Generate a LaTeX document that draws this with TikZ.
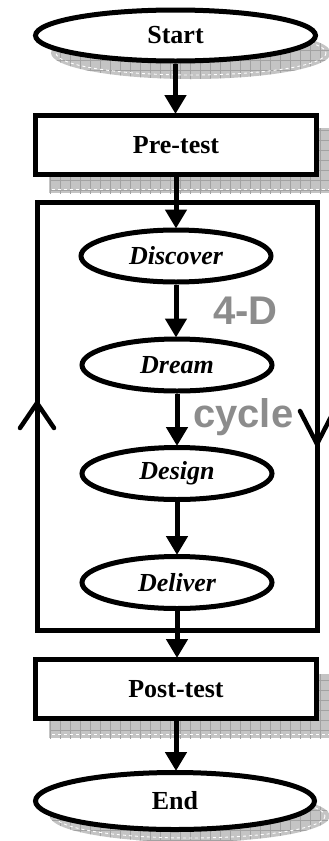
\documentclass[tikz,border=0pt]{standalone}
\usepackage{fontspec}
\setmainfont{Liberation Serif}
\newfontfamily\labelsans{Liberation Sans}
\usetikzlibrary{shapes.geometric,arrows.meta}
\definecolor{shadowfill}{HTML}{C4C4C4}
\definecolor{shadowgrid}{HTML}{A2A2A2}
\definecolor{cyclegray}{HTML}{8C8C8C}
\tikzset{
  bw/.style={line width=5pt},
  termnode/.style={ellipse,draw,bw,fill=white,inner sep=0pt,minimum width=280pt,minimum height=51pt,font=\fontsize{26}{26}\selectfont\bfseries},
  stepnode/.style={ellipse,draw,bw,fill=white,inner sep=0pt,minimum width=190pt,minimum height=52pt,font=\fontsize{26}{26}\selectfont\bfseries\itshape},
  testbox/.style={rectangle,draw,bw,fill=white,inner sep=0pt,minimum width=281pt,minimum height=59pt,font=\fontsize{26}{26}\selectfont\bfseries},
  flow/.style={bw,-{Triangle[width=21pt,length=19pt]},shorten >=-1pt},
  chev/.style={line width=4.5pt,line cap=round,line join=miter},
  bigtext/.style={text=cyclegray,inner sep=0pt,font=\labelsans\fontsize{40}{40}\selectfont\bfseries},
  shgrid/.style={shadowgrid,line width=0.7pt},
  shdash/.style={white,line width=0.9pt,dashed}
}
\newcommand{\shadowgridlines}[4]{%
  \foreach \gx in {#1,...,#3} {\draw[shgrid] (\gx*10,#2*10) -- (\gx*10,#4*10);}
  \foreach \gy in {#2,...,#4} {\draw[shgrid] (#1*10,\gy*10) -- (#3*10,\gy*10);}
}
\begin{document}
\begin{tikzpicture}[x=1pt,y=-1pt]
\useasboundingbox (0,0) rectangle (329,841);
% shadows
\begin{scope}
  \clip (191,53) ellipse [x radius=140, y radius=26];
  \fill[shadowfill] (40,20) rectangle (340,90);
  \shadowgridlines{4}{2}{34}{9}
\end{scope}
\draw[shdash] (191,53) ellipse [x radius=135, y radius=22];
\begin{scope}
  \clip (49,128) rectangle (340,193);
  \fill[shadowfill] (49,128) rectangle (340,193);
  \shadowgridlines{5}{12}{34}{20}
\end{scope}
\draw[shdash] (52,189) -- (335,189);
\begin{scope}
  \clip (49,674) rectangle (340,738);
  \fill[shadowfill] (49,674) rectangle (340,738);
  \shadowgridlines{5}{67}{34}{74}
\end{scope}
\draw[shdash] (52,734) -- (335,734);
\begin{scope}
  \clip (190,816) ellipse [x radius=140, y radius=26];
  \fill[shadowfill] (40,780) rectangle (340,850);
  \shadowgridlines{4}{78}{34}{85}
\end{scope}
\draw[shdash] (190,816) ellipse [x radius=135, y radius=22];
% cycle frame
\draw[bw] (37,202) rectangle (317,630);
% nodes
\node[termnode] (start) at (175.5,35.5) {Start};
\node[testbox] (pre) at (176,145) {Pre-test};
\node[stepnode] (disc) at (176,256) {Discover};
\node[stepnode] (dream) at (177,365) {Dream};
\node[stepnode] (design) at (177,473.5) {Design};
\node[stepnode] (deliver) at (177,582.5) {Deliver};
\node[testbox] (post) at (176,689) {Post-test};
\node[termnode,minimum width=279pt,minimum height=57pt] (end) at (175,801) {End};
% connectors
\draw[flow] (start.south) -- (start.south |- pre.north);
\draw[flow] (pre.south) -- (pre.south |- disc.north);
\draw[flow] (disc.south) -- (disc.south |- dream.north);
\draw[flow] (dream.south) -- (dream.south |- design.north);
\draw[flow] (design.south) -- (design.south |- deliver.north);
\draw[flow] (deliver.south) -- (deliver.south |- post.north);
\draw[flow] (post.south) -- (post.south |- end.north);
% chevrons on frame
\draw[chev] (20,428) -- (37,403) -- (54,428);
\draw[chev] (300,411) -- (317,444) -- (334,411);
% labels
\node[bigtext,anchor=base west] (fourd) at (213,324) {4-D};
\node[bigtext,anchor=base west] (cyc) at (193,427) {cycle};
\end{tikzpicture}
\end{document}
